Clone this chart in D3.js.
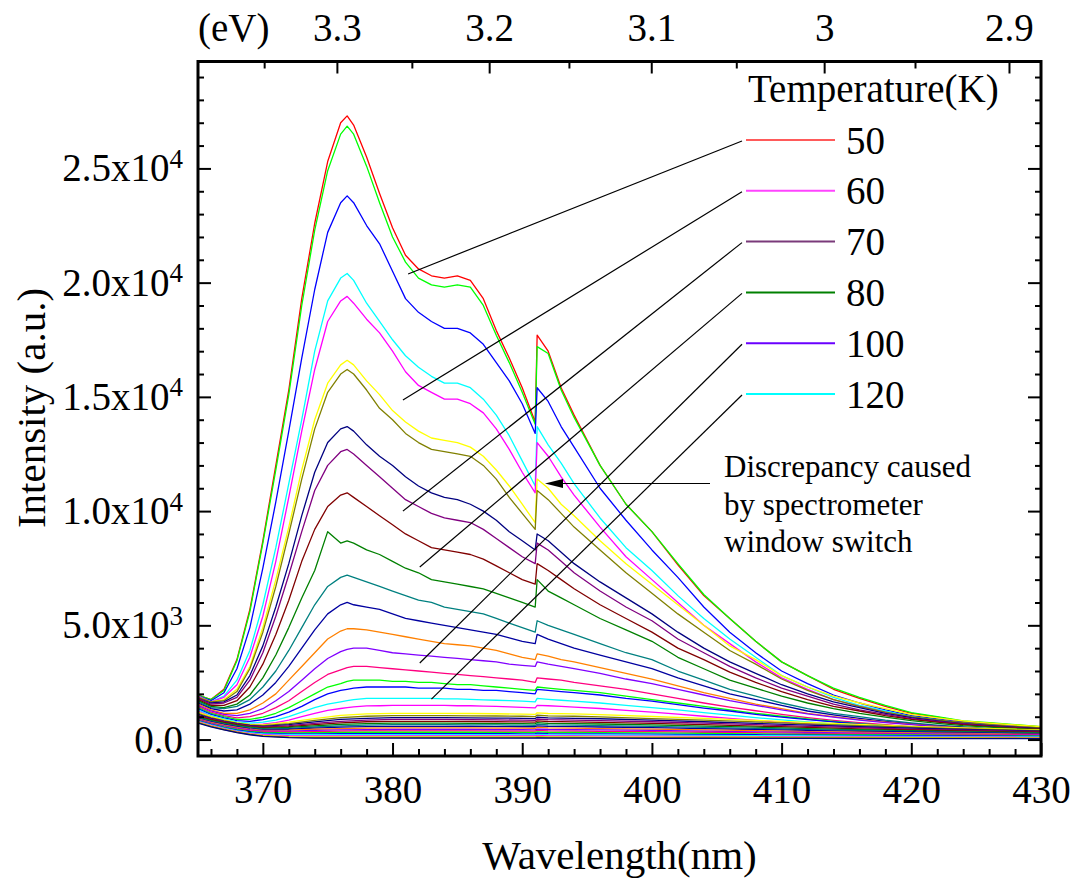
<!DOCTYPE html>
<html>
<head>
<meta charset="utf-8">
<script src="https://cdn.jsdelivr.net/npm/d3@7"></script>
<style>
  html, body { margin: 0; padding: 0; background: #fff; }
  svg { display: block; font-family: "Liberation Serif", "Times New Roman", serif; }
  text { fill: #000; }
</style>
</head>
<body>
<svg id="chart" width="1076" height="879"></svg>
<script>
// ---- Wavelength grids (nm) ----
const wavelengths = [365,366,367,368,369,370,371,372,373,374,375,376,376.5,
  377,378,379,380,381,382,383,384,385,386,387,388,389,390,391,391.15,
  392,393,394,396,398,400,402,404,406,408,410,412,414,416,418,420,422,424,426,428,430];
const wavelengthsLow = [365,366,367,368,369,370,372,374,376,378,380,382,384,386,388,390,391,391.15,
  392,394,396,400,404,408,412,416,420,424,428,430];

// ---- PL spectra, intensity (a.u.) on the main grid ----
const specRed = [1950,1750,2200,3500,5700,8700,12000,15300,19300,22600,25300,27000,27300,
  26900,25500,23900,22400,21200,20600,20300,20200,20300,20100,19300,17900,16700,15400,13900,17700,
  17000,15400,14200,12000,10300,9100,7650,6300,5300,4300,3400,2800,2200,1800,1450,1150,980,800,720,630,550];
const specGreen = [1950,1750,2150,3450,5600,8600,11800,15100,19000,22300,24900,26500,26850,
  26500,25100,23500,22000,20900,20200,19900,19800,19900,19800,19000,17700,16500,15200,13800,17200,
  16900,15300,14100,12000,10300,9100,7700,6350,5300,4300,3400,2800,2250,1850,1500,1180,1000,820,740,650,570];
const specBlue = [1900,1700,2050,3100,4900,7500,10400,13500,16700,19700,22200,23500,23800,
  23500,22500,21700,20500,19300,18700,18300,18000,18000,17800,17300,16500,15700,14700,13400,15400,
  14800,13700,12800,11000,9600,8300,7100,5800,4700,3800,3000,2450,1950,1600,1300,1050,900,750,650,560,500];
const specCyan = [1900,1650,1900,2600,3900,5900,8400,11200,14000,17000,19200,20200,20400,
  20100,19100,18300,17500,16800,16300,15900,15600,15600,15400,14900,14200,13300,12200,11100,13700,
  12900,12100,11200,9700,8400,7400,6300,5300,4400,3600,2800,2300,1850,1500,1250,1000,860,720,620,540,480];
const specMagenta = [1900,1650,1850,2400,3600,5400,7800,10600,13500,16200,18300,19200,19400,
  19100,18400,17800,17000,16100,15500,15200,14900,14900,14700,14300,13600,12700,11700,10800,13000,
  12400,11500,10700,9300,8000,7000,6000,5000,4200,3400,2700,2200,1750,1450,1200,960,820,700,600,520,460];
const specYellow = [1850,1650,1750,2200,3200,4900,7000,9300,11800,14000,15600,16400,16600,
  16400,15700,15100,14400,13900,13500,13200,13100,13000,12800,12400,11800,11100,10300,9500,11400,
  11000,10300,9800,8700,7700,6800,5900,5000,4100,3500,2800,2300,1900,1600,1350,1100,950,820,720,640,570];
const specDarkYellow = [1850,1650,1700,2100,3100,4700,6700,9000,11400,13600,15200,16000,16200,
  16000,15300,14500,14000,13400,13000,12700,12600,12500,12400,12000,11400,10600,9900,9200,10900,
  10500,9900,9300,8300,7300,6400,5500,4700,3900,3300,2650,2150,1750,1450,1200,1000,860,740,650,570,510];
const specNavy = [1800,1600,1650,1950,2800,4100,5800,7700,9800,11700,13000,13600,13700,
  13500,12900,12400,12000,11500,11100,10800,10600,10500,10300,10000,9600,9100,8700,8300,9000,
  8700,8200,7700,6900,6200,5500,4700,4000,3400,2900,2400,2000,1650,1400,1150,960,820,700,610,540,480];
const specPurple = [1800,1550,1600,1850,2600,3800,5400,7200,9100,10900,12000,12600,12700,
  12500,12000,11500,11000,10500,10200,9900,9700,9600,9500,9200,8800,8400,8000,7700,8600,
  8300,7800,7300,6500,5800,5200,4400,3800,3200,2700,2250,1900,1550,1300,1100,920,790,680,590,520,460];
const specWine = [1750,1500,1500,1700,2300,3300,4600,6100,7800,9200,10200,10700,10800,
  10600,10200,9800,9400,9000,8700,8400,8300,8200,8100,7900,7600,7300,7000,6800,7700,
  7400,7000,6600,5900,5300,4700,4000,3500,2950,2500,2100,1750,1450,1250,1050,880,760,650,570,500,450];
const specOlive = [1700,1450,1400,1550,1950,2700,3700,4900,6200,7400,9100,8600,8700,
  8600,8300,8100,7800,7500,7300,7000,6900,6800,6700,6600,6400,6200,6000,5800,7000,
  6500,6200,5900,5300,4800,4300,3600,3100,2600,2250,1900,1600,1350,1150,980,830,710,610,540,480,430];
const specDarkCyan = [1650,1400,1350,1450,1750,2300,3000,3900,4900,5900,6700,7100,7200,
  7100,6900,6700,6500,6300,6100,6000,5800,5700,5600,5500,5300,5100,4900,4700,5200,
  5000,4800,4600,4200,3800,3500,3000,2600,2200,1900,1600,1350,1150,1000,850,730,630,550,490,440,400];
const specRoyal = [1600,1350,1250,1300,1550,1950,2500,3200,4000,4800,5500,5900,6000,
  5900,5800,5700,5500,5300,5200,5100,5000,4900,4800,4700,4600,4450,4300,4200,4600,
  4400,4200,4000,3700,3400,3100,2700,2350,2000,1750,1500,1250,1080,930,800,690,600,530,470,420,380];
const specOrange = [1550,1300,1150,1150,1300,1600,2000,2600,3200,3800,4400,4750,4850,
  4850,4800,4700,4600,4500,4400,4300,4200,4150,4100,4000,3900,3750,3600,3500,3750,
  3650,3500,3400,3150,2900,2650,2350,2050,1800,1550,1350,1150,1000,870,760,660,580,510,460,410,370];
const specViolet = [1500,1250,1100,1050,1150,1350,1700,2100,2600,3100,3550,3850,3950,
  4000,4000,3900,3800,3750,3700,3650,3600,3550,3500,3450,3400,3300,3250,3200,3400,
  3300,3200,3100,2900,2650,2450,2200,1950,1700,1500,1300,1120,980,850,740,650,570,500,450,400,360];
const specPink = [1450,1200,1050,950,1000,1150,1400,1700,2100,2500,2850,3050,3150,
  3200,3200,3150,3100,3050,3000,2950,2900,2850,2800,2750,2700,2650,2600,2500,2700,
  2650,2600,2500,2350,2200,2000,1800,1600,1420,1260,1100,960,840,740,650,570,500,450,400,360,330];
const specGreen2 = [1400,1150,1000,880,880,980,1150,1400,1700,2000,2300,2450,2550,
  2600,2600,2600,2550,2550,2500,2500,2450,2400,2400,2350,2300,2250,2200,2150,2300,
  2250,2200,2150,2050,1900,1750,1600,1450,1300,1150,1020,900,790,700,620,540,480,430,390,350,320];
const specBlue2 = [1350,1100,950,830,800,870,1000,1200,1450,1750,2000,2150,2200,
  2250,2300,2300,2300,2300,2250,2250,2250,2200,2200,2150,2150,2100,2050,2000,2200,
  2150,2100,2050,1950,1800,1680,1530,1380,1250,1100,980,870,770,680,600,530,470,420,380,340,310];
const specCyan2 = [1300,1050,900,770,720,760,850,1000,1200,1400,1550,1650,1700,
  1750,1800,1800,1800,1800,1800,1800,1780,1780,1760,1740,1720,1700,1680,1650,1800,
  1760,1720,1680,1600,1500,1400,1300,1180,1070,960,860,770,680,610,540,480,430,390,350,320,290];
const specMagenta2 = [1250,1000,850,710,650,670,740,850,1000,1150,1280,1360,1400,
  1430,1470,1480,1500,1500,1500,1500,1500,1480,1480,1460,1450,1430,1410,1390,1500,
  1480,1450,1420,1360,1280,1200,1110,1020,930,840,760,680,610,550,490,440,400,360,330,300,280];

// ---- weak spectra, on the coarse grid ----
const weak01 = [1200,1000,860,740,660,640,760,920,1060,1120,1150,1150,1150,1140,1130,1110,1100,1170,1140,1120,1090,1010,930,840,750,660,580,510,450,420];
const weak02 = [1150,960,830,720,640,610,700,840,960,1020,1050,1050,1050,1040,1030,1020,1000,1070,1040,1020,990,920,850,770,690,610,540,470,420,390];
const weak03 = [1100,930,800,700,620,580,650,770,880,930,960,960,960,950,940,930,920,980,950,930,910,850,780,710,630,560,500,440,390,370];
const weak04 = [1060,900,780,680,600,550,610,710,800,850,880,880,880,870,860,850,840,900,870,850,830,780,720,650,580,520,460,410,370,350];
const weak05 = [1020,870,750,650,570,520,570,650,730,780,800,800,800,790,780,770,760,820,790,770,750,710,650,590,530,470,420,380,340,320];
const weak06 = [980,840,720,620,540,490,530,600,660,700,720,720,720,710,700,700,690,740,710,700,680,640,590,540,480,430,390,350,310,290];
const weak07 = [950,810,690,590,510,460,490,550,600,630,650,650,650,640,640,630,620,670,640,630,610,580,530,490,440,400,360,320,290,270];
const weak08 = [920,780,660,560,480,430,450,500,540,570,580,580,580,580,570,560,560,600,580,570,550,520,480,440,400,360,330,300,270,250];
const weak09 = [900,750,630,530,450,400,410,450,480,500,510,510,510,510,500,500,490,530,510,500,480,460,420,390,350,320,290,270,240,230];
const weak10 = [880,720,600,500,420,370,370,400,420,430,440,440,440,440,430,430,420,460,440,430,420,400,370,340,310,280,260,240,220,210];
const weak11 = [860,700,570,470,390,340,330,350,370,380,380,380,380,380,370,370,370,400,380,370,360,350,320,300,270,250,230,210,200,190];
const weak12 = [840,680,550,440,360,310,290,300,310,320,320,320,320,320,310,310,310,340,320,310,300,290,270,250,230,210,200,180,170,160];
const weak13 = [820,660,520,410,330,280,250,250,260,260,260,260,260,260,260,250,250,280,260,250,250,240,220,210,190,180,170,160,150,140];
const weak14 = [800,640,500,380,300,250,210,210,210,210,210,210,210,210,210,200,200,230,210,200,200,190,180,170,160,150,140,130,120,120];
const weak15 = [780,620,480,360,270,210,170,160,160,160,160,160,160,160,160,160,160,180,160,160,150,150,140,130,120,120,110,100,100,90];
const weak16 = [760,600,460,340,250,180,130,120,120,120,120,120,120,120,120,120,120,140,120,120,110,110,100,100,90,90,80,80,70,70];
const weak17 = [740,580,440,320,230,160,100,90,90,90,90,90,90,90,90,90,90,100,90,90,80,80,80,70,70,70,60,60,60,50];
const weak18 = [720,560,420,300,210,140,80,60,60,60,60,60,60,60,60,60,60,70,60,60,60,50,50,50,50,40,40,40,40,40];

const strongSpectra = [specRed, specGreen, specBlue, specCyan, specMagenta, specYellow, specDarkYellow,
  specNavy, specPurple, specWine, specOlive, specDarkCyan, specRoyal, specOrange, specViolet, specPink,
  specGreen2, specBlue2, specCyan2, specMagenta2];
const weakSpectra = [weak01, weak02, weak03, weak04, weak05, weak06, weak07, weak08, weak09,
  weak10, weak11, weak12, weak13, weak14, weak15, weak16, weak17, weak18];

// ---- line colours ----
const strongColors = ["#ff0000","#00ff00","#0000ff","#00ffff","#ff00ff","#ffff00","#808000",
  "#000080","#800080","#800000","#008000","#008080","#0000a0","#ff8000","#8000ff","#ff0080",
  "#00ff00","#0000ff","#00ffff","#ff00ff"];
const weakColors = ["#ffff00","#808000","#000080","#800080","#800000","#008000","#008080","#0000a0",
  "#ff8000","#8000ff","#ff0080","#00ff00","#0000ff","#00ffff","#ff00ff","#ffff00","#808000","#000080"];

// ---- legend ----
const legendTemps = ["50","60","70","80","100","120"];
const legendColors = ["#ff5a5a","#ff44ff","#7a3a7a","#008000","#6a00ff","#00ffff"];
// where each leader line lands: [wavelength nm, intensity]
const leaderTargets = [[381.2,20380],[380.8,14860],[380.8,10000],[382.1,7550],[382.1,3350],[383.0,1770]];

// ---- ticks ----
const xMajorTicks = [370,380,390,400,410,420,430];
const xMinorTicks = [366,368,372,374,376,378,382,384,386,388,392,394,396,398,402,404,406,408,412,414,416,418,422,424,426,428];
const yMajorTicks = [0,5000,10000,15000,20000,25000];
const yMinorTicks = [1000,2000,3000,4000,6000,7000,8000,9000,11000,12000,13000,14000,16000,17000,18000,19000,21000,22000,23000,24000,26000,27000,28000,29000];
const eMajorTicks = [3.3,3.2,3.1,3.0,2.9];
const eMajorLabels = ["3.3","3.2","3.1","3","2.9"];
const eMinorTicks = [3.35,3.25,3.15,3.05,2.95];
const hc = 1239.84; // eV*nm

// ---- drawing ----
const svg = d3.select("#chart");
const plotLeft = 198, plotRight = 1041, plotTop = 61.5, plotBottom = 756;

const x = d3.scaleLinear().domain([365, 430]).range([plotLeft, plotRight]);
const y = d3.scaleLinear().domain([-720, 29680]).range([plotBottom, plotTop]);

svg.append("defs").append("clipPath").attr("id", "plotClip")
  .append("rect").attr("x", plotLeft).attr("y", plotTop)
  .attr("width", plotRight - plotLeft).attr("height", plotBottom - plotTop);

const line = d3.line().x(d => x(d[0])).y(d => y(d[1]));
const curves = svg.append("g").attr("clip-path", "url(#plotClip)");

strongSpectra.forEach((vals, i) => {
  curves.append("path")
    .datum(wavelengths.map((w, j) => [w, vals[j]]))
    .attr("d", line).attr("fill", "none")
    .attr("stroke", strongColors[i]).attr("stroke-width", 1.3)
    .attr("stroke-linejoin", "round");
});
weakSpectra.forEach((vals, i) => {
  curves.append("path")
    .datum(wavelengthsLow.map((w, j) => [w, vals[j]]))
    .attr("d", line).attr("fill", "none")
    .attr("stroke", weakColors[i]).attr("stroke-width", 1.3)
    .attr("stroke-linejoin", "round");
});

// axes helper: strip d3 default styling
function styleAxis(g, fontSize) {
  g.attr("font-family", null).attr("font-size", null);
  g.select(".domain").remove();
  g.selectAll(".tick line").attr("stroke", "#000").attr("stroke-width", 2);
  g.selectAll(".tick text").attr("fill", "#000").attr("font-size", fontSize);
}

// bottom wavelength axis
svg.append("g").attr("transform", `translate(0,${plotBottom})`)
  .call(d3.axisBottom(x).tickValues(xMajorTicks).tickSize(-13).tickPadding(19))
  .call(g => styleAxis(g, 39));
svg.append("g").attr("transform", `translate(0,${plotBottom})`)
  .call(d3.axisBottom(x).tickValues(xMinorTicks).tickSize(-7).tickFormat(""))
  .call(g => styleAxis(g, 39));

// top energy axis
svg.append("g").attr("transform", `translate(0,${plotTop})`)
  .call(d3.axisTop(x).tickValues(eMajorTicks.map(e => hc / e)).tickSize(-12).tickPadding(21)
    .tickFormat((d, i) => eMajorLabels[i]))
  .call(g => styleAxis(g, 39));
svg.append("g").attr("transform", `translate(0,${plotTop})`)
  .call(d3.axisTop(x).tickValues(eMinorTicks.map(e => hc / e)).tickSize(-7).tickFormat(""))
  .call(g => styleAxis(g, 39));
svg.append("text").attr("x", plotLeft).attr("y", plotTop - 21).attr("font-size", 39).text("(eV)");

// left intensity axis
const leftAxis = svg.append("g").attr("transform", `translate(${plotLeft},0)`)
  .call(d3.axisLeft(y).tickValues(yMajorTicks).tickSize(-13).tickPadding(15))
  .call(g => styleAxis(g, 39));
leftAxis.selectAll(".tick text").each(function(d) {
  const t = d3.select(this);
  t.text(null);
  if (d === 0) { t.text("0.0"); return; }
  const e = Math.floor(Math.log10(d));
  const m = d / Math.pow(10, e);
  t.append("tspan").text(m.toFixed(1) + "x10");
  t.append("tspan").attr("dy", "-0.5em").attr("font-size", 27).text(e);
});
svg.append("g").attr("transform", `translate(${plotLeft},0)`)
  .call(d3.axisLeft(y).tickValues(yMinorTicks).tickSize(-6).tickFormat(""))
  .call(g => styleAxis(g, 39));

// right mirror ticks
svg.append("g").attr("transform", `translate(${plotRight},0)`)
  .call(d3.axisRight(y).tickValues(yMajorTicks).tickSize(-13).tickFormat(""))
  .call(g => styleAxis(g, 39));
svg.append("g").attr("transform", `translate(${plotRight},0)`)
  .call(d3.axisRight(y).tickValues(yMinorTicks).tickSize(-6).tickFormat(""))
  .call(g => styleAxis(g, 39));

// frame
svg.append("rect").attr("x", plotLeft).attr("y", plotTop)
  .attr("width", plotRight - plotLeft).attr("height", plotBottom - plotTop)
  .attr("fill", "none").attr("stroke", "#000").attr("stroke-width", 3);

// axis titles
svg.append("text").attr("x", (plotLeft + plotRight) / 2).attr("y", 869).attr("text-anchor", "middle")
  .attr("font-size", 41).text("Wavelength(nm)");
svg.append("text").attr("transform", "translate(45,408) rotate(-90)").attr("text-anchor", "middle")
  .attr("font-size", 41).text("Intensity (a.u.)");

// legend
const legend = svg.append("g");
legend.append("text").attr("x", 748).attr("y", 102).attr("font-size", 39).text("Temperature(K)");
legendTemps.forEach((t, i) => {
  const ly = 140 + i * 50.8;
  legend.append("line").attr("x1", 746).attr("x2", 835).attr("y1", ly).attr("y2", ly)
    .attr("stroke", legendColors[i]).attr("stroke-width", 2);
  legend.append("text").attr("x", 846).attr("y", ly + 13.5).attr("font-size", 39).text(t);
  legend.append("line").attr("x1", 742).attr("y1", ly + 1)
    .attr("x2", x(leaderTargets[i][0])).attr("y2", y(leaderTargets[i][1]))
    .attr("stroke", "#000").attr("stroke-width", 1.2);
});

// annotation for the detector window switch
const note = svg.append("g");
["Discrepancy caused", "by spectrometer", "window switch"].forEach((s, i) => {
  note.append("text").attr("x", 724).attr("y", 477 + i * 37.5).attr("font-size", 31).text(s);
});
note.append("line").attr("x1", 710).attr("y1", 483.5).attr("x2", 560).attr("y2", 483.5)
  .attr("stroke", "#000").attr("stroke-width", 1.2);
note.append("path").attr("d", "M545,483.5 L563,479 L563,488 Z").attr("fill", "#000");
</script>
</body>
</html>
